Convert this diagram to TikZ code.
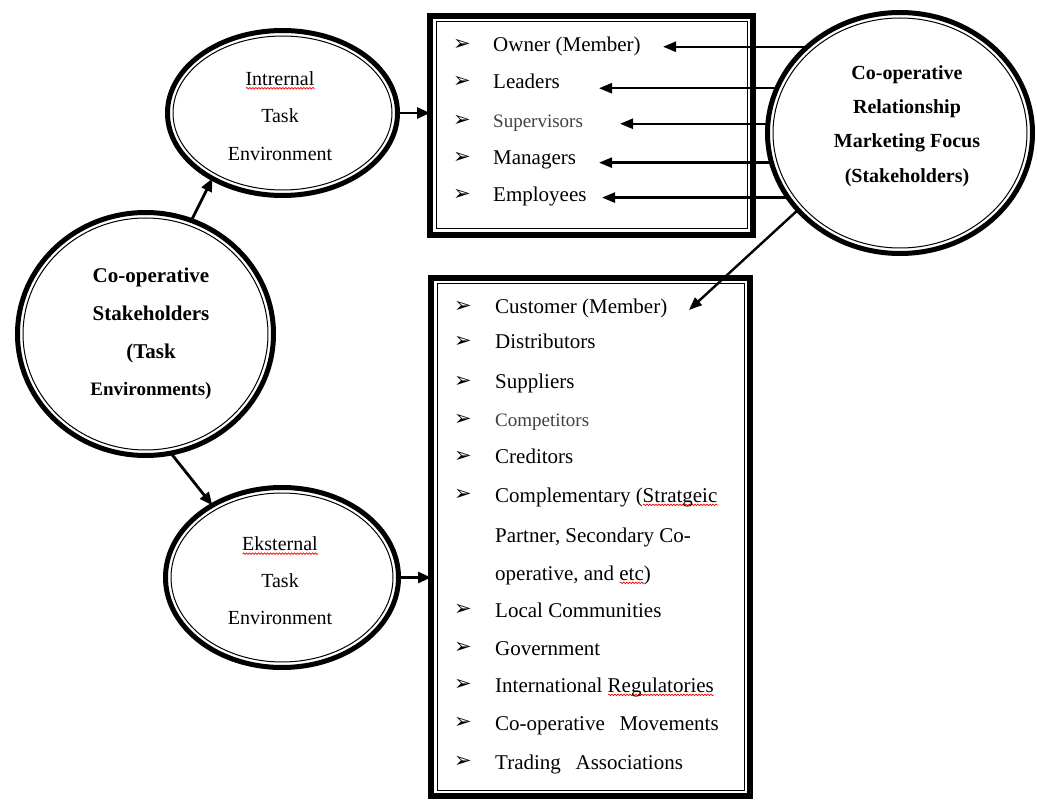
\documentclass[tikz,border=0pt]{standalone}
\usepackage{fontspec}
\setmainfont{Liberation Serif}
\newfontfamily\dejavu{DejaVu Sans}
\usetikzlibrary{shapes.geometric,arrows.meta,decorations.pathmorphing}
\newlength\sqwd
\newcommand\sqg[1]{\settowidth\sqwd{#1}\rlap{\smash{\raisebox{-4pt}{\tikz\draw[red,line width=0.7pt,decorate,decoration={snake,amplitude=0.8pt,segment length=3pt}] (0pt,0pt) -- (\sqwd,0pt);}}}#1}
\begin{document}
\begin{tikzpicture}[x=1pt,y=-1pt,
  ell/.style={ellipse, draw, line width=5pt, fill=white, inner sep=0pt, outer sep=0pt},
  box/.style={rectangle, draw, line width=5.5pt, fill=white, inner sep=0pt, outer sep=0pt},
  thinline/.style={line width=1pt},
  lbl/.style={align=center, inner sep=0pt},
  itm/.style={anchor=base west, inner sep=0pt, font=\fontsize{21}{25}\selectfont},
  itmg/.style={itm, font=\fontsize{19}{25}\selectfont, text=black!75},
  bul/.style={inner sep=0pt, font=\dejavu\fontsize{21}{24}\selectfont},
  conn/.style={line width=2.8pt, -{Triangle[length=13pt,width=11pt]}},
  rconn/.style={line width=2.4pt, -{Triangle[length=13pt,width=10pt]}}]
\useasboundingbox (0,0) rectangle (1037,802);

% ellipses
\node[ell, minimum width=230pt, minimum height=165pt] (int) at (282.5,113) {};
\draw[thinline] (int.center) ellipse [x radius=109.5pt, y radius=77pt];
\node[ell, minimum width=233pt, minimum height=180pt] (ext) at (282,577.5) {};
\draw[thinline] (ext.center) ellipse [x radius=111pt, y radius=84.5pt];
\node[ell, minimum width=256pt, minimum height=243pt] (stake) at (145.5,334) {};
\draw[thinline] (stake.center) ellipse [x radius=122.5pt, y radius=116pt];
\node[ell, minimum width=265pt, minimum height=241pt] (rel) at (900,133) {};
\draw[thinline] (rel.center) ellipse [x radius=127pt, y radius=115pt];

% boxes
\node[box, minimum width=323pt, minimum height=219pt] (tbox) at (591.5,125.5) {};
\draw[thinline] ([shift={(6,6)}]tbox.north west) rectangle ([shift={(-6,-6)}]tbox.south east);
\node[box, minimum width=319pt, minimum height=518pt] (bbox) at (590.5,537) {};
\draw[thinline] ([shift={(6,6)}]bbox.north west) rectangle ([shift={(-6,-6)}]bbox.south east);

% ellipse texts
\node[lbl, font=\fontsize{20}{37.5}\selectfont] (intT) at (280,116) {\sqg{Intrernal}\\Task\\Environment};
\node[lbl, font=\fontsize{20}{37}\selectfont] (extT) at (280,581) {\sqg{Eksternal}\\Task\\Environment};
\node[lbl, font=\bfseries\fontsize{21}{37.7}\selectfont] (stakeT) at (151,334) {Co-operative\\Stakeholders\\(Task\\{\fontsize{19}{37.7}\selectfont Environments)}};
\node[lbl, font=\bfseries\fontsize{20}{34.3}\selectfont] (relT) at (907,126) {Co-operative\\Relationship\\Marketing Focus\\(Stakeholders)};

% top box items
\node[bul] (tb1) at (462,45) {➢};  \node[itm]  (ti1) at (493,52)  {Owner (Member)};
\node[bul] (tb2) at (462,82) {➢};  \node[itm]  (ti2) at (493,89)  {Leaders};
\node[bul] (tb3) at (462,121) {➢}; \node[itmg] (ti3) at (493,128) {Supervisors};
\node[bul] (tb4) at (462,158) {➢}; \node[itm]  (ti4) at (493,165) {Managers};
\node[bul] (tb5) at (462,195) {➢}; \node[itm]  (ti5) at (493,202) {Employees};

% bottom box items
\node[bul] (bb1) at (463,307) {➢};  \node[itm]  (bi1) at (495,314) {Customer (Member)};
\node[bul] (bb2) at (463,342) {➢};  \node[itm]  (bi2) at (495,349) {Distributors};
\node[bul] (bb3) at (463,382) {➢};  \node[itm]  (bi3) at (495,389) {Suppliers};
\node[bul] (bb4) at (463,420) {➢};  \node[itmg] (bi4) at (495,427) {Competitors};
\node[bul] (bb5) at (463,457) {➢};  \node[itm]  (bi5) at (495,464) {Creditors};
\node[bul] (bb6) at (463,495) {➢};  \node[itm]  (bi6) at (495,502) {Complementary (\sqg{Stratgeic}};
\node[itm] (bi6b) at (495,542) {Partner, Secondary Co-};
\node[itm] (bi6c) at (495,580) {operative, and \sqg{etc})};
\node[bul] (bb7) at (463,610) {➢};  \node[itm]  (bi7) at (495,617) {Local Communities};
\node[bul] (bb8) at (463,648) {➢};  \node[itm]  (bi8) at (495,655) {Government};
\node[bul] (bb9) at (463,685) {➢};  \node[itm]  (bi9) at (495,692) {International \sqg{Regulatories}};
\node[bul] (bb10) at (463,723) {➢}; \node[itm]  (bi10) at (495,730) {Co-operative\hspace{0.45em} Movements};
\node[bul] (bb11) at (463,762) {➢}; \node[itm]  (bi11) at (495,769) {Trading\hspace{0.45em} Associations};

% connectors
\draw[conn] (int.east) -- (int.east -| tbox.west);
\draw[conn] (ext.east) -- (ext.east -| bbox.west);
\draw[conn] (stake.68) -- (int.223);
\draw[conn] (stake.282) -- (ext.134);

\coordinate (t1) at (663,0);
\coordinate (t2) at (599,0);
\coordinate (t3) at (620,0);
\coordinate (t4) at (599,0);
\coordinate (t5) at (602,0);
\coordinate (t6) at (689,310);
\draw[rconn] (rel.137) -- (rel.137 -| t1);
\draw[rconn] (rel.160) -- (rel.160 -| t2);
\draw[rconn] (rel.176) -- (rel.176 -| t3);
\draw[rconn] (rel.193) -- (rel.193 -| t4);
\draw[rconn] (rel.210) -- (rel.210 -| t5);
\draw[rconn] (rel.217) -- (t6);
\end{tikzpicture}
\end{document}
